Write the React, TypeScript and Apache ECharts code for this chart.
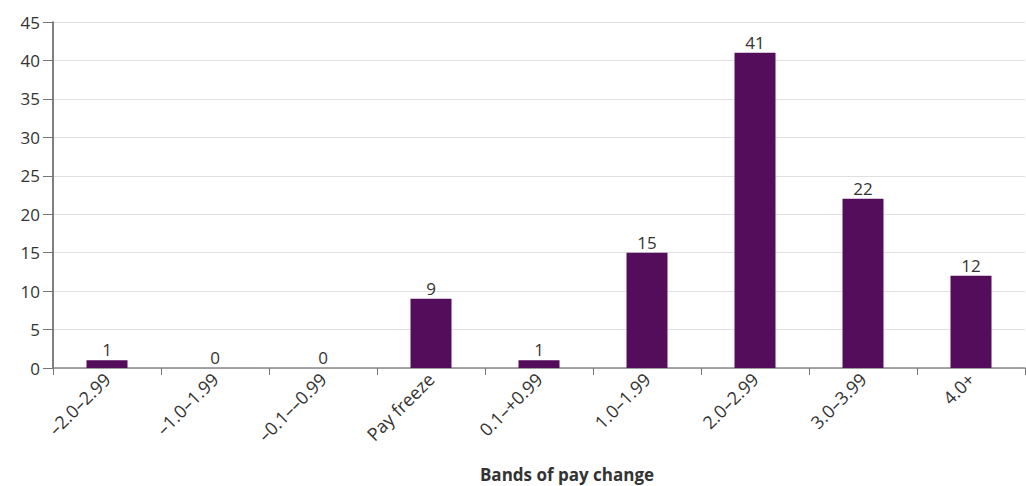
import React, { useEffect, useRef } from "react";
import * as echarts from "echarts";

const categories = ["–2.0–2.99", "–1.0–1.99", "–0.1––0.99", "Pay freeze", "0.1–+0.99", "1.0–1.99", "2.0–2.99", "3.0–3.99", "4.0+"];
const values = [1, 0, 0, 9, 1, 15, 41, 22, 12];
const axisTitle = "Bands of pay change";

export default function App() {
  const ref = useRef<HTMLDivElement>(null);
  useEffect(() => {
    const chart = echarts.init(ref.current!, null, { renderer: "svg" });
    const font = "Open Sans";
    chart.setOption({
      animation: false,
      grid: { left: 53, right: 1, top: 22, bottom: 118, containLabel: false },
      xAxis: {
        type: "category",
        data: categories,
        axisLine: { lineStyle: { color: "#888", width: 1.5 } },
        axisTick: { show: true, length: 7, lineStyle: { color: "#777" } },
        axisLabel: { rotate: 45, fontFamily: font, fontSize: 18, color: "#333", margin: 8, interval: 0 },
      },
      yAxis: {
        type: "value",
        min: 0,
        max: 45,
        interval: 5,
        axisLine: { show: true, lineStyle: { color: "#555", width: 1.5 } },
        axisTick: { show: true, length: 10, lineStyle: { color: "#777" } },
        axisLabel: { fontFamily: font, fontSize: 17, color: "#333", margin: 13 },
        splitLine: { lineStyle: { color: "#e0e0e0" } },
      },
      series: [
        {
          type: "bar",
          data: values,
          barWidth: 41,
          itemStyle: { color: "#540d5b" },
          label: { show: true, position: "top", fontFamily: font, fontSize: 17, color: "#333", distance: 2 },
        },
      ],
      graphic: [
        {
          type: "text",
          x: 567,
          y: 474,
          style: {
            text: axisTitle,
            fontFamily: font,
            fontSize: 17,
            fontWeight: "bold",
            fill: "#333",
            align: "center",
            verticalAlign: "middle",
          },
        },
      ],
    });
    return () => chart.dispose();
  }, []);
  return <div ref={ref} style={{ position: "absolute", left: 0, top: 0, width: 1026, height: 486 }} />;
}
